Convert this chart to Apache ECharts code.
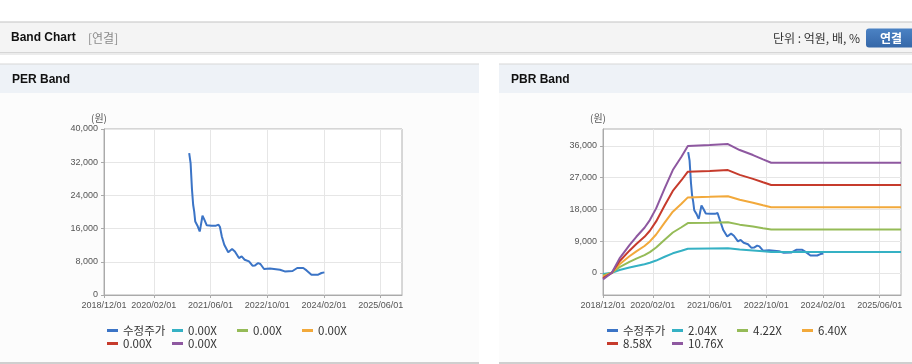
<!DOCTYPE html>
<html>
<head>
<meta charset="utf-8">
<script src="https://cdn.jsdelivr.net/npm/echarts@6/dist/echarts.min.js"></script>
<style>
html,body{margin:0;padding:0;background:#fff;}
#c{width:912px;height:364px;}
</style>
</head>
<body>
<div id="c"></div>
<script>
// ---- data ----
const xTickLabels = ['2018/12/01','2020/02/01','2021/06/01','2022/10/01','2024/02/01','2025/06/01'];
const xRange = ['2018/12/01','2025/12/01'];
const perTickValues = [0, 8000, 16000, 24000, 32000, 40000];
const pbrTickValues = [0, 9000, 18000, 27000, 36000];

const priceName = '수정주가';
const priceDates = ['2020/12/01','2020/12/13','2020/12/25','2021/01/04','2021/01/13','2021/01/22','2021/02/10','2021/03/01','2021/03/07','2021/03/25','2021/04/10','2021/05/01','2021/06/13','2021/07/19','2021/08/10','2021/08/22','2021/09/07','2021/09/28','2021/11/01','2021/12/04','2021/12/28','2022/02/01','2022/02/24','2022/03/22','2022/04/28','2022/05/28','2022/06/19','2022/07/16','2022/08/04','2022/09/04','2022/10/25','2023/01/19','2023/03/01','2023/05/07','2023/06/16','2023/08/07','2023/09/04','2023/10/16','2023/12/13','2024/01/10','2024/02/04'];
const priceValues = [34200,31800,25400,21750,20100,17700,16700,15300,16100,19100,18150,16800,16700,16700,16950,16400,14100,12100,10300,11100,10500,8900,9300,8500,8100,7060,7130,7700,7470,6270,6400,6100,5690,5780,6500,6500,5930,4900,4900,5300,5450];

const perBandLabels = ['0.00X','0.00X','0.00X','0.00X','0.00X'];

const pbrBandLabels = ['2.04X','4.22X','6.40X','8.58X','10.76X'];
const bandDates = ['2018/12/01','2019/02/15','2019/04/22','2019/07/16','2019/09/13','2019/11/22','2020/01/07','2020/03/01','2020/05/13','2020/07/22','2020/10/04','2020/11/28','2021/06/04','2021/11/07','2022/02/16','2022/06/10','2022/09/04','2022/11/13','2025/12/01'];
const band204 = [-357,0,773,1489,1934,2419,2832,3460,4535,5518,6236,6810,6863,6918,6595,6326,6096,5914,5914];
const band422 = [-739,0,1599,3081,4001,5005,5857,7157,9381,11415,12901,14086,14196,14310,13643,13086,12609,12234,12234];
const band640 = [-1120,0,2426,4672,6067,7590,8883,10854,14227,17312,19565,21363,21530,21702,20691,19846,19123,18554,18554];
const band858 = [-1502,0,3252,6263,8134,10176,11909,14552,19073,23209,26229,28640,28863,29095,27739,26607,25637,24873,24873];
const band1076 = [-1883,0,4078,7855,10200,12761,14935,18249,23919,29106,32893,35917,36197,36487,34787,33367,32151,31193,31193];

// ---- helpers ----
function ts(s){ const p = s.split('/').map(Number); return Date.UTC(p[0], p[1]-1, p[2]); }
function pad(n){ return (n<10?'0':'')+n; }
function fmtDate(v){ const d = new Date(v); return d.getUTCFullYear()+'/'+pad(d.getUTCMonth()+1)+'/'+pad(d.getUTCDate()); }
function zip(dates, vals){ return dates.map((d,i)=>[ts(d), vals[i]]); }

const colors = ['#3b74c6','#35b1c4','#95bb57','#f2a93b','#c63b2c','#8e58a0'];
const FONT = '"Liberation Sans", Arial, "Noto Sans CJK KR", sans-serif';
const KFONT = '"Noto Sans CJK KR", "Liberation Sans", sans-serif';

const xTicks = xTickLabels.map(ts);

// display names for legend entries (ids -> labels)
const labelMap = {};
labelMap['per_price'] = priceName; labelMap['pbr_price'] = priceName;
perBandLabels.forEach((l,i)=> labelMap['per_band_'+i] = l);
pbrBandLabels.forEach((l,i)=> labelMap['pbr_band_'+i] = l);

function xAxis(gi){
  return {
    type: 'value', gridIndex: gi, min: ts(xRange[0]), max: ts(xRange[1]),
    axisLine: {show: true, onZero: false, lineStyle: {color: '#aaaaaa'}},
    axisTick: {show: true, length: 3, lineStyle: {color: '#aaaaaa'}, customValues: xTicks},
    axisLabel: {customValues: xTicks, formatter: fmtDate, color: '#555', fontSize: 9, fontFamily: FONT, margin: 6},
    splitLine: {show: true, lineStyle: {color: '#e6e6e6'}}
  };
}
function yAxis(gi, min, max, ticks){
  return {
    type: 'value', gridIndex: gi, min: min, max: max,
    name: '(원)', nameLocation: 'end', nameGap: 6,
    nameTextStyle: {color: '#555', fontSize: 10, fontFamily: KFONT, padding: [0, 10, 0, 0]},
    axisLine: {show: true, onZero: false, lineStyle: {color: '#aaaaaa'}},
    axisTick: {show: true, length: 3, lineStyle: {color: '#aaaaaa'}, customValues: ticks},
    axisLabel: {customValues: ticks, color: '#555', fontSize: 9, fontFamily: FONT, margin: 6,
      formatter: v => v.toLocaleString('en-US')},
    splitLine: {show: true, lineStyle: {color: '#e6e6e6'}}
  };
}
function line(name, data, color, gi){
  return {
    type: 'line', name: name, xAxisIndex: gi, yAxisIndex: gi, data: data,
    showSymbol: false, symbol: 'none', smooth: false, animation: false,
    lineStyle: {width: 2, color: color}, itemStyle: {color: color}
  };
}
function legend(left, names){
  return {
    left: left, top: 324, width: 262, orient: 'horizontal', padding: 0,
    itemWidth: 11, itemHeight: 3, itemGap: 0, icon: 'rect',
    data: names, selectedMode: false,
    formatter: n => labelMap[n],
    textStyle: {fontSize: 11.5, color: '#333', fontFamily: KFONT, width: 49, lineHeight: 13}
  };
}

const series = [];
series.push(line('per_price', zip(priceDates, priceValues), colors[0], 0));
perBandLabels.forEach((n,i)=> series.push(line('per_band_'+i, [], colors[i+1], 0)));
series.push(line('pbr_price', zip(priceDates, priceValues), colors[0], 1));
const pbrBands = [band204, band422, band640, band858, band1076];
pbrBandLabels.forEach((n,i)=> series.push(line('pbr_band_'+i, zip(bandDates, pbrBands[i]), colors[i+1], 1)));

const chart = echarts.init(document.getElementById('c'), null, {renderer: 'canvas'});
chart.setOption({
  animation: false,
  color: colors,
  graphic: [
    // header bar
    {type: 'rect', z: -10, shape: {x: 0, y: 22, width: 912, height: 31}, style: {fill: '#f4f4f4'}},
    {type: 'rect', z: -9, shape: {x: 0, y: 21.5, width: 912, height: 1}, style: {fill: '#c4c4c4'}},
    {type: 'rect', z: -9, shape: {x: 0, y: 52, width: 912, height: 1}, style: {fill: '#d6d6d6'}},
    {type: 'rect', z: -9, shape: {x: 0, y: 53, width: 912, height: 2}, style: {fill: '#ececec'}},
    {type: 'text', z: 10, x: 11, y: 38, style: {text: 'Band Chart', font: 'bold 12px ' + FONT, fill: '#111', verticalAlign: 'middle'}},
    {type: 'text', z: 10, x: 88, y: 38, style: {text: '[연결]', font: '12px ' + KFONT, fill: '#8a8a8a', verticalAlign: 'middle'}},
    {type: 'text', z: 10, x: 860, y: 38, style: {text: '단위 : 억원, 배, %', font: '12px ' + KFONT, fill: '#333', align: 'right', verticalAlign: 'middle'}},
    {type: 'rect', z: 10, shape: {x: 866, y: 28.5, width: 52, height: 19, r: 3}, style: {fill: {type: 'linear', x: 0, y: 0, x2: 0, y2: 1, colorStops: [{offset: 0, color: '#4b82c4'}, {offset: 1, color: '#3567a8'}]}}},
    {type: 'text', z: 11, x: 891, y: 38, style: {text: '연결', font: 'bold 12px ' + KFONT, fill: '#fff', align: 'center', verticalAlign: 'middle'}},
    // panels
    {type: 'rect', z: -10, shape: {x: 0, y: 64, width: 479, height: 299}, style: {fill: '#fcfcfc'}},
    {type: 'rect', z: -10, shape: {x: 499, y: 64, width: 413, height: 299}, style: {fill: '#fcfcfc'}},
    {type: 'rect', z: -9, shape: {x: 0, y: 64, width: 479, height: 29}, style: {fill: '#eef2f7'}},
    {type: 'rect', z: -9, shape: {x: 499, y: 64, width: 413, height: 29}, style: {fill: '#eef2f7'}},
    {type: 'rect', z: -8, shape: {x: 0, y: 63.5, width: 479, height: 1}, style: {fill: '#d8d8d8'}},
    {type: 'rect', z: -8, shape: {x: 499, y: 63.5, width: 413, height: 1}, style: {fill: '#d8d8d8'}},
    {type: 'rect', z: -8, shape: {x: 0, y: 362, width: 479, height: 2}, style: {fill: '#cfcfcf'}},
    {type: 'rect', z: -8, shape: {x: 499, y: 362, width: 413, height: 2}, style: {fill: '#cfcfcf'}},
    {type: 'text', z: 10, x: 12, y: 80, style: {text: 'PER Band', font: 'bold 12px ' + FONT, fill: '#111', verticalAlign: 'middle'}},
    {type: 'text', z: 10, x: 511, y: 80, style: {text: 'PBR Band', font: 'bold 12px ' + FONT, fill: '#111', verticalAlign: 'middle'}}
  ],
  grid: [
    {left: 104, top: 129, width: 298, height: 166, show: true, backgroundColor: '#ffffff', borderColor: '#b0b0b0', borderWidth: 1},
    {left: 603, top: 129, width: 298, height: 166, show: true, backgroundColor: '#ffffff', borderColor: '#b0b0b0', borderWidth: 1}
  ],
  xAxis: [xAxis(0), xAxis(1)],
  yAxis: [yAxis(0, 0, 40000, perTickValues), yAxis(1, -6300, 40750, pbrTickValues)],
  legend: [
    legend(107, ['per_price','per_band_0','per_band_1','per_band_2','per_band_3','per_band_4']),
    legend(607, ['pbr_price','pbr_band_0','pbr_band_1','pbr_band_2','pbr_band_3','pbr_band_4'])
  ],
  series: series
});
</script>
</body>
</html>
